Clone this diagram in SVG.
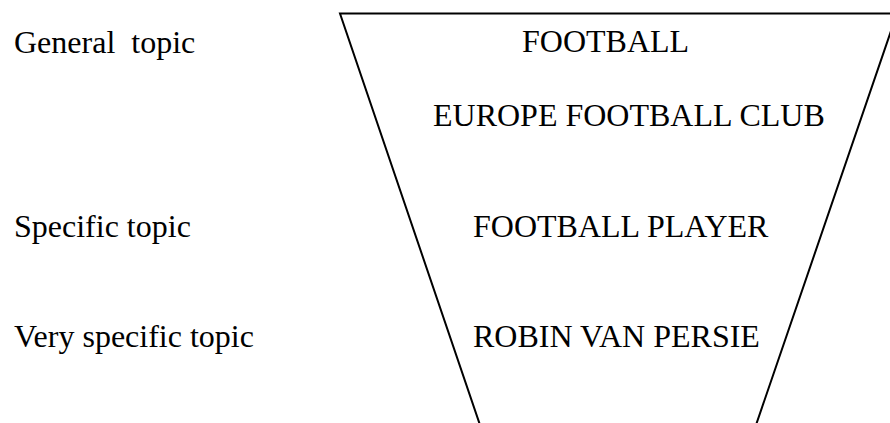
<svg xmlns="http://www.w3.org/2000/svg" width="890" height="423" viewBox="0 0 890 423">
<style>
text{font-family:"Liberation Serif","Times New Roman",serif;font-size:32px;fill:#000}
.edge{fill:none;stroke:#000;stroke-width:2}
</style>
<rect width="890" height="423" fill="#fff"/>
<g id="connectors">
<polyline class="edge" points="480,425 340,13.5 897,13.5 756,425"/>
</g>
<g id="label-general"><text x="14" y="53" xml:space="preserve">General  topic</text></g>
<g id="label-specific"><text x="14" y="237">Specific topic</text></g>
<g id="label-very-specific"><text x="14" y="347">Very specific topic</text></g>
<g id="node-football"><text x="522" y="52">FOOTBALL</text></g>
<g id="node-europe"><text x="433" y="126">EUROPE FOOTBALL CLUB</text></g>
<g id="node-player"><text x="473" y="237">FOOTBALL PLAYER</text></g>
<g id="node-robin"><text x="473" y="347">ROBIN VAN PERSIE</text></g>
</svg>
